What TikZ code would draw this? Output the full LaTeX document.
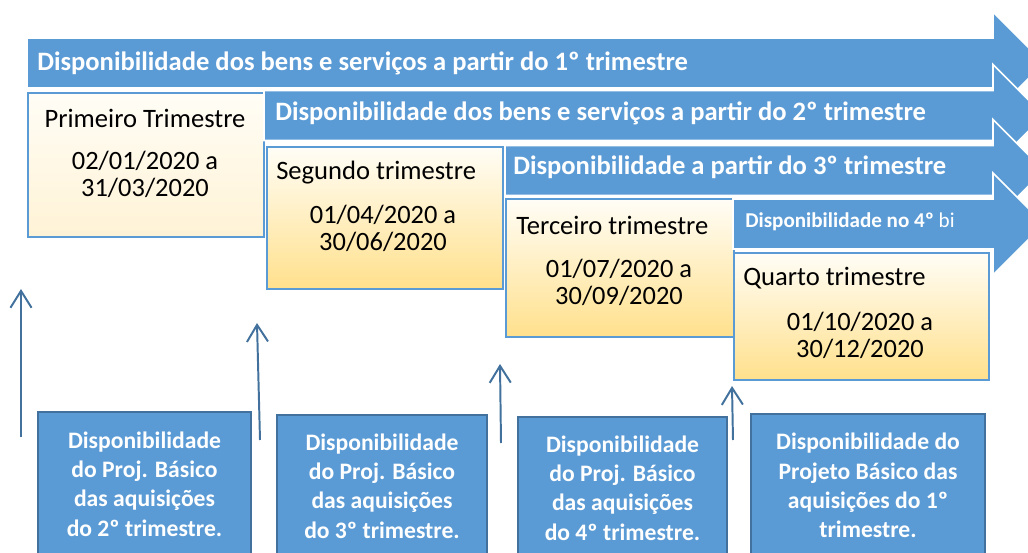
\documentclass[tikz,border=0pt]{standalone}
\usepackage{fontspec}
\setmainfont{Carlito}
\usetikzlibrary{arrows.meta,shapes}
\definecolor{azul}{HTML}{5B9BD5}
\definecolor{azulesc}{HTML}{41719C}
\definecolor{creme}{HTML}{FFFDF6}
\definecolor{creme2}{HTML}{FFF3D6}
\definecolor{amarelo}{HTML}{FFE08C}
\tikzstyle{faixa}=[fill=azul,draw=white,line width=1.2pt]
\tikzstyle{titfaixa}=[anchor=west,text=white,font=\fontsize{18.9}{22}\selectfont\bfseries,inner sep=0pt]
\tikzstyle{periodo}=[draw=azul,line width=1.5pt,top color=creme,bottom color=amarelo,anchor=north west,inner sep=0pt]
\tikzstyle{titulo}=[font=\fontsize{18.9}{22}\selectfont,inner sep=0pt]
\tikzstyle{datas}=[font=\fontsize{18.8}{19.1}\selectfont,align=center,inner sep=0pt]
\tikzstyle{aquis}=[draw=azulesc,line width=1.5pt,fill=azul,text=white,anchor=north,align=center,font=\fontsize{16.8}{20.9}\selectfont\bfseries]
\tikzstyle{seta}=[draw=azulesc,line width=1.4pt,-{Straight Barb[length=12pt,width=15pt]}]

\begin{document}
\begin{tikzpicture}[x=0.025cm,y=-0.025cm]
    \useasboundingbox (0,0) rectangle (1028,553);
    \clip (0,0) rectangle (1028,553);
    % First we draw the arrows, each one with its period box
    \foreach \n/\xa/\c/\bx/\by/\bw/\bh/\fim in {1/27/63/27/92/236/144/creme2, 2/264/115.5/266/146/236/142/amarelo, 3/505/170.5/505/198/228/138/amarelo, 4/733/224/733/252/255/127/amarelo}
    {
        \path[faixa] (\xa,\c-25) -- (993,\c-25) -- (993,\c-51) -- (1044,\c) -- (993,\c+51) -- (993,\c+25) -- (\xa,\c+25) -- cycle;
        \node[periodo,bottom color=\fim,minimum width=\bw*0.025cm,minimum height=\bh*0.025cm] (q\n) at (\bx,\by) {};
    }
    % Texts on the arrows
    \node[titfaixa] (h1) at (37,63.5) {Disponibilidade dos bens e serviços a partir do 1º trimestre};
    \node[titfaixa] (h2) at (275,113.5) {Disponibilidade dos bens e serviços a partir do 2º trimestre};
    \node[titfaixa] (h3) at (513,167.5) {Disponibilidade a partir do 3º trimestre};
    \node[titfaixa,font=\fontsize{15}{17}\selectfont] (h4) at (745,221.5) {\textbf{Disponibilidade no 4º} bi};
    % Texts in the period boxes
    \node[titulo] (t1) at (145,118) {Primeiro Trimestre};
    \node[titulo,anchor=west] (t2) at (276,172.5) {Segundo trimestre};
    \node[titulo,anchor=west] (t3) at (516,225.5) {Terceiro trimestre};
    \node[titulo,anchor=west] (t4) at (743,278.5) {Quarto trimestre};
    \node[datas] (d1) at (145,174) {02/01/2020 a\\31/03/2020};
    \node[datas] (d2) at (383,228) {01/04/2020 a\\30/06/2020};
    \node[datas] (d3) at (619,282) {01/07/2020 a\\30/09/2020};
    \node[datas] (d4) at (860,335) {01/10/2020 a\\30/12/2020};
    % Boxes of the basic projects
    \node[aquis,minimum width=213*0.025cm,minimum height=144*0.025cm] (p1) at (144.5,411) {Disponibilidade\\do Proj. Básico\\das aquisições\\do 2º trimestre.};
    \node[aquis,minimum width=210*0.025cm,minimum height=142*0.025cm] (p2) at (382,414) {Disponibilidade\\do Proj. Básico\\das aquisições\\do 3º trimestre.};
    \node[aquis,minimum width=209*0.025cm,minimum height=142*0.025cm] (p3) at (622.5,416) {Disponibilidade\\do Proj. Básico\\das aquisições\\do 4º trimestre.};
    \node[aquis,minimum width=234*0.025cm,minimum height=143*0.025cm] (p4) at (868,413) {Disponibilidade do\\Projeto Básico das\\aquisições do 1º\\trimestre.};
    % Vertical arrows
    \foreach \n/\xa/\ya/\xb/\yb in {1/21/437/21/289, 2/260/440/257/323, 3/501/443/500/364, 4/733/440/732/386}
    {
        \coordinate (s\n) at (\xa,\ya);
        \coordinate (e\n) at (\xb,\yb);
        \path[seta] (s\n) -- (e\n);
    }
\end{tikzpicture}
\end{document}
